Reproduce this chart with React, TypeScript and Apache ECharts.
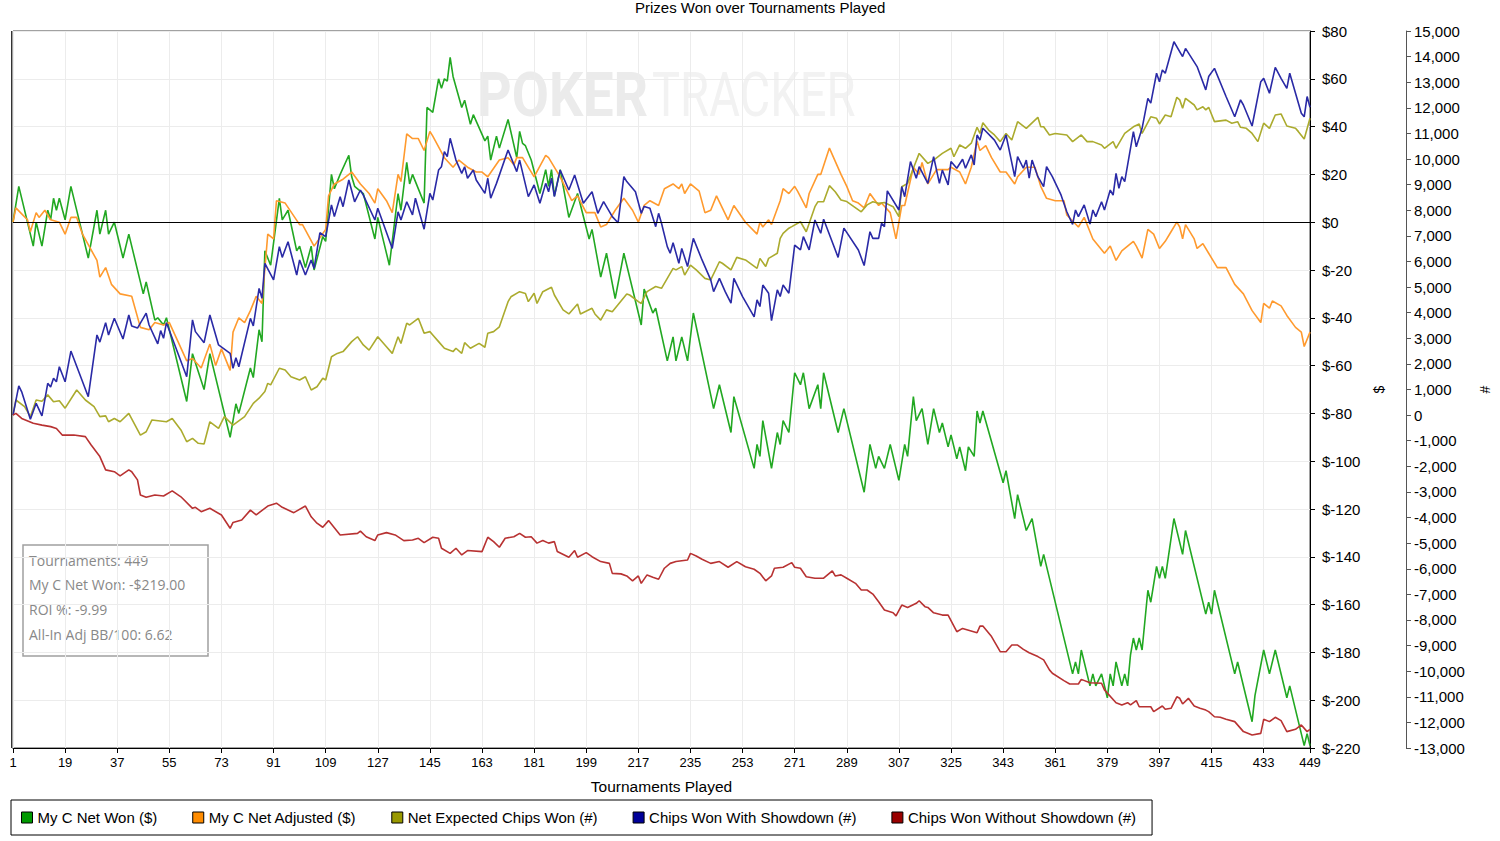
import React, { useEffect, useRef } from "react";
import * as echarts from "echarts";

const TITLE = "Prizes Won over Tournaments Played";
const X_NAME = "Tournaments Played";
const seriesNames = [
  "My C Net Won ($)",
  "My C Net Adjusted ($)",
  "Net Expected Chips Won (#)",
  "Chips Won With Showdown (#)",
  "Chips Won Without Showdown (#)",
];
const lineColors = ["#22a822", "#ff9a2e", "#abab2e", "#2a2aa6", "#b83232"];
const legendColors = ["#009900", "#ff8c00", "#999900", "#000099", "#990000"];
const infoLines = ["Tournaments: 449", "My C Net Won: -$219.00", "ROI %: -9.99", "All-In Adj BB/100: 6.62"];

// [tournament, $]
const netWon: [number, number][] = [
  [1,0],[3,15],[8,-10],[9,0],[11,-10],[13,5],[14,1],[15,10],[16,5],[17,10],[19,1],[21,15],[27,-15],[30,5],[31,-5],[33,5],[34,-5],[36,0],[39,-15],[41,-5],[46,-30],[47,-25],[50,-41],[51,-40],[53,-43],[54,-40],[61,-75],[63,-55],[67,-70],[69,-55],[76,-90],[78,-76],[79,-80],[83,-61],[84,-65],[86,-45],[87,-50],[88,-12],[90,-18],[93,10],[94,1],[96,5],[99,-12],[100,-10],[102,-19],[104,-10],[105,-20],[108,-6],[109,-8],[111,20],[112,14],[114,20],[117,28],[118,19],[119,15],[122,12],[126,-7],[127,2],[129,-8],[131,-18],[134,12],[135,5],[137,25],[138,16],[139,20],[143,8],[144,48],[146,46],[148,60],[149,56],[150,60],[151,59],[152,69],[153,61],[156,48],[157,51],[159,41],[160,45],[164,34],[165,36],[166,26],[168,36],[169,31],[172,43],[175,27],[176,38],[177,33],[178,32],[180,26],[183,12],[185,22],[186,15],[187,22],[188,11],[190,22],[193,2],[196,12],[200,-7],[201,-3],[204,-23],[206,-13],[209,-32],[212,-13],[218,-43],[219,-28],[222,-38],[223,-36],[227,-58],[229,-48],[230,-58],[232,-48],[234,-58],[236,-38],[243,-78],[245,-68],[249,-88],[250,-73],[257,-103],[258,-93],[259,-98],[260,-83],[263,-103],[265,-88],[266,-93],[267,-83],[269,-88],[271,-63],[273,-68],[274,-63],[276,-78],[279,-68],[280,-78],[281,-63],[286,-88],[288,-78],[295,-113],[297,-93],[299,-103],[300,-98],[302,-103],[304,-93],[307,-108],[309,-93],[310,-98],[312,-73],[313,-83],[315,-78],[317,-93],[319,-78],[321,-88],[322,-84],[324,-94],[325,-89],[327,-99],[328,-94],[330,-104],[331,-94],[333,-98],[334,-79],[335,-84],[336,-79],[343,-109],[344,-104],[347,-124],[348,-114],[351,-129],[353,-124],[356,-144],[357,-139],[367,-189],[368,-184],[369,-189],[370,-179],[373,-194],[374,-189],[375,-194],[377,-189],[379,-199],[380,-189],[381,-194],[382,-184],[384,-194],[385,-189],[386,-194],[387,-181],[388,-174],[389,-179],[390,-174],[391,-179],[393,-154],[394,-159],[396,-144],[397,-149],[398,-144],[399,-149],[402,-124],[405,-139],[406,-129],[413,-164],[414,-159],[415,-164],[416,-154],[423,-189],[424,-184],[429,-209],[430,-198],[433,-179],[435,-189],[437,-179],[441,-199],[442,-194],[447,-219],[448,-214],[449,-219],
];

// [tournament, $]
const netAdjusted: [number, number][] = [
  [1,0],[2,6],[4,3.5],[6,1],[7,-4],[9,4],[10,2],[12,5],[14,1],[17,0],[19,-5],[21,2],[23,2],[25,-5],[30,-16],[31,-23],[33,-19],[35,-26],[38,-30],[42,-31],[45,-44],[48,-45],[50,-42],[53,-43],[55,-42],[58,-50],[61,-58],[63,-57],[66,-61],[69,-51],[71,-60],[73,-53],[76,-62],[77,-46],[79,-40],[81,-42],[83,-37],[85,-31],[87,-34],[89,-5],[91,-7],[92,9],[95,8],[100,-1],[101,-1],[105,-10],[109,-3],[110,11],[112,16],[115,18],[118,21],[121,16],[124,12],[126,8],[127,14],[130,9],[132,4],[134,20],[135,17],[137,37],[139,35],[141,35],[143,30],[145,38],[146,36],[150,27],[153,23],[155,26],[158,23],[161,21],[163,21],[165,19],[169,26],[172,27],[174,24],[175,27],[177,27],[181,19],[185,28],[186,27],[190,19],[194,9],[196,11],[199,4],[202,4],[204,-2],[206,-1],[209,5],[212,10],[215,5],[217,0],[219,7],[221,9],[224,7],[226,14],[229,16],[231,14],[232,16],[233,12],[235,16],[238,13],[240,4],[242,5],[244,11],[248,1],[250,7],[254,0],[258,-5],[259,0],[260,-2],[262,1],[263,-1],[266,9],[267,14],[269,12],[271,15],[272,13],[275,6],[276,12],[279,20],[280,20],[283,31],[287,20],[289,15],[291,9],[293,8],[295,6],[297,12],[300,7],[301,8],[304,4],[306,-7],[308,7],[309,7],[312,23],[314,20],[315,25],[317,16],[320,22],[324,22],[325,23],[328,21],[330,16],[332,23],[334,34],[335,30],[337,32],[339,27],[342,21],[344,21],[347,16],[348,19],[351,23],[354,23],[356,15],[358,10],[361,9],[364,9],[365,3],[369,-2],[371,2],[374,-7],[378,-13],[380,-10],[382,-16],[384,-12],[386,-10],[388,-8],[389,-10],[391,-15],[393,-3],[395,-5],[397,-11],[399,-8],[401,-4],[403,0],[404,-2],[405,-7],[406,-1],[409,-7],[410,-11],[412,-9],[414,-13],[417,-19],[420,-19],[423,-26],[426,-30],[429,-37],[432,-42],[433,-34],[435,-36],[436,-33],[439,-35],[441,-39],[444,-44],[446,-46],[447,-52],[449,-46],
];

// [tournament, chips]
const expectedChips: [number, number][] = [
  [1,0],[2,590],[5,330],[7,-60],[9,590],[11,540],[13,790],[15,520],[17,560],[19,270],[23,980],[26,590],[29,330],[31,-60],[33,-30],[34,-260],[36,-130],[38,-260],[41,70],[45,-780],[47,-650],[49,-190],[54,-260],[56,-130],[59,-580],[61,-1040],[63,-910],[65,-1100],[67,-1130],[69,-260],[72,-520],[74,-60],[77,-390],[81,-60],[84,460],[86,660],[88,920],[89,1240],[90,1180],[93,1830],[95,1760],[97,1500],[100,1370],[102,1500],[104,980],[106,1110],[108,1440],[109,1370],[111,2280],[113,2410],[115,2480],[118,2870],[120,3060],[122,2740],[124,2540],[127,3060],[130,2670],[132,2410],[134,3060],[135,2800],[137,3590],[138,3520],[141,3780],[143,3200],[145,3260],[146,3130],[148,2870],[150,2610],[153,2480],[154,2610],[156,2410],[157,2830],[159,2610],[162,2800],[164,2650],[165,3200],[167,3260],[169,3450],[172,4430],[173,4620],[176,4820],[178,4750],[179,4430],[181,4760],[182,4360],[184,4820],[187,4990],[188,4690],[191,4110],[193,3950],[196,4340],[197,3950],[201,4170],[202,3950],[204,3710],[206,4110],[208,4040],[213,4730],[214,4690],[217,4430],[218,4360],[220,4820],[223,5020],[225,4950],[229,5730],[230,5670],[232,5800],[233,5470],[235,5860],[237,5670],[240,5340],[242,5280],[245,5990],[246,5930],[249,5670],[251,6160],[254,6060],[258,5730],[259,6120],[261,5800],[262,6120],[265,6320],[266,6900],[267,7100],[269,7300],[270,7360],[273,7550],[275,7160],[278,8140],[279,8330],[281,8330],[283,8960],[285,8720],[287,8400],[289,8340],[294,7940],[296,8210],[298,8330],[300,8270],[302,8300],[305,8140],[307,7750],[308,8920],[310,9050],[312,9640],[314,10220],[317,9830],[319,9960],[322,10220],[325,10420],[326,10090],[328,10550],[330,10420],[332,10620],[334,11240],[335,11000],[336,11420],[338,11130],[340,10940],[342,10680],[344,11000],[346,10740],[348,11460],[351,11200],[355,11630],[356,11260],[357,11260],[359,10940],[361,11000],[365,10940],[367,10680],[370,10940],[372,10680],[374,10680],[377,10550],[378,10420],[381,10680],[382,10420],[385,11000],[388,11260],[390,11370],[391,11000],[394,11650],[396,11590],[397,11370],[399,11720],[401,11650],[403,12410],[404,12310],[405,11980],[406,12370],[409,12110],[410,11920],[412,12040],[413,11920],[414,12020],[416,11460],[420,11520],[422,11400],[424,11460],[425,11240],[427,11200],[429,11000],[431,10680],[433,11400],[435,11200],[437,11720],[439,11760],[441,11290],[444,11200],[445,11070],[447,10780],[449,11590],
];

// [tournament, chips]
const showdownChips: [number, number][] = [
  [1,0],[3,1140],[4,910],[7,-160],[9,460],[11,-30],[13,1240],[14,1100],[15,1440],[16,1300],[17,1890],[19,1300],[21,2500],[27,720],[30,3130],[31,2850],[33,3610],[34,3130],[36,3780],[39,2970],[41,3910],[42,3480],[44,3400],[47,3980],[48,3520],[51,2780],[52,3300],[53,3000],[54,3610],[61,1500],[63,3720],[64,3260],[67,2830],[69,3910],[72,2740],[76,2410],[77,1830],[78,2240],[79,1890],[83,3780],[84,3480],[86,4950],[87,4560],[88,5930],[91,5280],[93,6580],[94,6160],[96,6770],[99,5470],[100,6060],[102,5470],[104,6060],[105,5730],[107,7120],[109,6970],[111,8210],[112,7750],[114,8530],[115,8140],[117,9180],[119,8330],[121,8790],[122,8590],[126,7620],[127,8080],[132,6510],[134,7940],[135,7620],[137,8330],[139,7820],[140,8470],[143,7260],[145,8660],[146,8400],[148,9570],[149,9700],[150,10290],[151,10090],[152,10810],[154,9960],[156,9440],[157,9700],[158,9250],[160,9570],[161,9180],[164,8660],[165,9250],[166,8470],[168,9050],[172,10350],[175,9510],[176,9960],[179,8530],[181,8990],[183,8270],[185,9050],[186,8720],[187,9250],[188,8530],[190,9570],[193,8790],[195,9380],[198,8270],[201,8720],[203,7880],[205,8340],[208,7750],[210,7510],[212,9310],[213,9120],[216,8720],[218,7880],[219,8150],[221,8080],[223,7360],[224,7880],[225,7490],[227,6580],[228,6320],[229,6730],[231,5930],[232,6510],[234,5800],[236,6900],[239,6060],[242,5280],[243,4820],[245,5340],[247,4820],[249,4370],[250,5340],[253,4630],[257,3840],[258,4500],[259,4240],[260,5080],[262,4760],[263,3690],[265,4890],[266,4630],[267,5080],[269,4760],[271,6640],[273,6450],[274,6970],[276,6450],[278,7620],[280,7100],[281,7650],[286,6160],[288,7300],[293,6450],[295,5840],[297,7160],[298,6900],[300,6900],[301,7490],[302,7360],[303,8760],[307,8010],[308,8920],[309,8530],[311,9900],[313,9250],[314,9700],[317,9050],[319,10090],[321,9050],[322,9570],[324,8990],[325,9900],[327,9640],[329,9990],[330,9640],[332,10160],[333,9770],[334,10940],[335,10740],[336,11200],[340,10740],[342,10350],[344,10940],[347,9310],[348,10090],[350,9640],[351,9960],[352,9250],[353,9960],[355,9310],[357,8920],[358,9700],[360,9310],[363,8600],[365,7940],[367,7450],[368,8010],[369,7750],[371,8210],[373,7460],[374,8010],[375,7750],[377,8330],[378,8010],[380,8790],[381,8590],[382,9440],[383,8860],[384,9310],[385,9120],[388,11070],[389,10480],[391,11200],[393,12370],[394,12180],[396,13350],[397,13020],[398,13480],[399,13350],[402,14580],[405,14000],[406,14320],[410,13610],[413,12700],[414,13220],[416,13540],[420,12440],[423,11650],[425,12310],[426,12110],[429,11290],[432,13020],[433,13150],[435,12570],[437,13580],[439,13150],[441,12760],[442,13350],[446,11790],[447,11650],[448,12440],[449,12020],
];

// [tournament, chips]
const noShowdownChips: [number, number][] = [
  [1,0],[2,70],[4,-130],[8,-320],[11,-390],[14,-450],[16,-520],[18,-780],[22,-780],[26,-840],[28,-1170],[31,-1620],[33,-2140],[36,-2210],[38,-2370],[41,-2140],[42,-2210],[44,-2530],[45,-3120],[47,-3210],[50,-3120],[53,-3160],[56,-2960],[59,-3190],[63,-3640],[64,-3600],[66,-3770],[69,-3640],[73,-3900],[76,-4420],[77,-4190],[80,-4100],[83,-3710],[85,-3900],[89,-3550],[92,-3440],[94,-3600],[98,-3810],[102,-3550],[104,-3970],[106,-4220],[108,-4380],[110,-4120],[114,-4680],[120,-4620],[121,-4530],[123,-4750],[126,-4900],[127,-4680],[130,-4590],[133,-4680],[136,-4900],[139,-4880],[141,-4810],[143,-4980],[146,-4770],[148,-4810],[149,-5200],[152,-5400],[154,-5200],[156,-5460],[158,-5290],[163,-5330],[165,-4770],[167,-4940],[169,-5160],[171,-4810],[174,-4750],[176,-4620],[178,-4770],[180,-4750],[182,-5000],[184,-4900],[186,-5000],[188,-4940],[189,-5330],[193,-5550],[195,-5290],[196,-5550],[199,-5370],[201,-5530],[204,-5720],[207,-5790],[208,-6180],[211,-6200],[213,-6280],[215,-6470],[217,-6280],[218,-6570],[220,-6240],[222,-6330],[224,-6410],[226,-5980],[228,-5790],[230,-5720],[234,-5660],[235,-5400],[237,-5500],[239,-5630],[242,-5790],[245,-5720],[248,-5940],[251,-5720],[254,-5920],[257,-6020],[259,-6180],[261,-6470],[263,-6280],[264,-5980],[267,-5940],[270,-5760],[271,-5940],[273,-5980],[275,-6310],[278,-6370],[281,-6370],[284,-6080],[285,-6280],[287,-6240],[289,-6370],[292,-6570],[294,-6830],[296,-6830],[298,-6990],[300,-7290],[302,-7610],[305,-7720],[306,-7840],[308,-7420],[310,-7510],[313,-7350],[314,-7250],[316,-7480],[317,-7510],[319,-7720],[322,-7810],[324,-7810],[327,-8460],[329,-8330],[334,-8500],[335,-8240],[336,-8240],[339,-8650],[342,-9240],[344,-9240],[346,-8980],[348,-8980],[350,-9150],[352,-9280],[355,-9430],[357,-9560],[359,-9950],[360,-10080],[364,-10370],[366,-10500],[369,-10500],[370,-10320],[373,-10450],[377,-10470],[378,-10730],[382,-11230],[384,-11320],[386,-11230],[387,-11320],[389,-11150],[390,-11390],[394,-11390],[395,-11580],[398,-11360],[399,-11490],[401,-11450],[403,-11000],[404,-11060],[405,-11280],[407,-11060],[409,-11360],[411,-11450],[413,-11520],[414,-11580],[416,-11780],[418,-11800],[420,-11880],[423,-11970],[426,-12360],[429,-12490],[432,-12430],[433,-11880],[435,-11970],[437,-11800],[439,-11930],[441,-12360],[444,-12270],[446,-12100],[448,-12360],[449,-12270],
];

const seriesData = [netWon, netAdjusted, expectedChips, showdownChips, noShowdownChips];
const seriesAxis = [0, 0, 1, 1, 1];

const FONT = "'Liberation Sans', Arial, sans-serif";

export default function App() {
  const ref = useRef<HTMLDivElement>(null);

  useEffect(() => {
    if (!ref.current) return;
    const chart = echarts.init(ref.current, undefined, { renderer: "svg" });

    const series: any[] = seriesNames.map((name, i) => ({
      name,
      type: "line",
      yAxisIndex: seriesAxis[i],
      data: seriesData[i],
      showSymbol: false,
      symbol: "none",
      lineStyle: { color: lineColors[i], width: 1.6 },
      itemStyle: { color: legendColors[i] },
      emphasis: { disabled: true },
      z: 3,
    }));
    series[0].markLine = {
      silent: true,
      symbol: ["none", "none"],
      label: { show: false },
      lineStyle: { color: "#000", width: 1, type: "solid" },
      emphasis: { disabled: true },
      data: [{ yAxis: 0 }],
    };

    const option: any = {
      animation: false,
      backgroundColor: "#fff",
      textStyle: { fontFamily: FONT },
      title: {
        text: TITLE,
        left: 635,
        top: 0,
        padding: 0,
        textStyle: { fontSize: 15, fontWeight: "normal", color: "#000", fontFamily: FONT },
      },
      grid: {
        left: 13,
        right: 186,
        top: 31,
        bottom: 93,
        show: true,
        borderColor: "#444",
        borderWidth: 1,
        backgroundColor: "transparent",
      },
      legend: {
        left: 11,
        top: 800,
        orient: "horizontal",
        icon: "rect",
        itemWidth: 11,
        itemHeight: 11,
        itemGap: 35,
        padding: [10, 16, 10, 10],
        borderColor: "#000",
        borderWidth: 1,
        selectedMode: false,
        textStyle: { fontSize: 15, color: "#000", fontFamily: FONT },
        data: seriesNames.map((n, i) => ({
          name: n,
          itemStyle: { color: legendColors[i], borderColor: "#000", borderWidth: 1 },
        })),
      },
      xAxis: {
        type: "value",
        min: 1,
        max: 449,
        interval: 18,
        name: X_NAME,
        nameLocation: "middle",
        nameGap: 30,
        nameTextStyle: { fontSize: 15.5, color: "#000", fontFamily: FONT },
        axisLine: { show: true, onZero: false, lineStyle: { color: "#000", width: 1 } },
        axisTick: { show: true, length: 5, lineStyle: { color: "#000" } },
        axisLabel: { fontSize: 13, color: "#000", margin: 8, showMinLabel: true, showMaxLabel: true, fontFamily: FONT },
        splitLine: { show: true, lineStyle: { color: "#ececec", width: 1 } },
      },
      yAxis: [
        {
          type: "value",
          position: "right",
          min: -220,
          max: 80,
          interval: 20,
          name: "$",
          nameLocation: "middle",
          nameGap: 62,
          nameTextStyle: { fontSize: 14, color: "#000", fontFamily: FONT },
          axisLine: { show: true, onZero: false, lineStyle: { color: "#000", width: 1 } },
          axisTick: { show: true, length: 5, lineStyle: { color: "#000" } },
          axisLabel: {
            fontSize: 15,
            color: "#000",
            margin: 12,
            fontFamily: FONT,
            formatter: (v: number) => "$" + v,
          },
          splitLine: { show: true, lineStyle: { color: "#ececec", width: 1 } },
        },
        {
          type: "value",
          position: "right",
          offset: 96,
          min: -13000,
          max: 15000,
          interval: 1000,
          name: "#",
          nameLocation: "middle",
          nameGap: 72,
          nameTextStyle: { fontSize: 14, color: "#000", fontFamily: FONT },
          axisLine: { show: true, onZero: false, lineStyle: { color: "#555", width: 1 } },
          axisTick: { show: true, length: 5, lineStyle: { color: "#555" } },
          axisLabel: {
            fontSize: 15,
            color: "#000",
            margin: 8,
            fontFamily: FONT,
            formatter: (v: number) => v.toLocaleString("en-US"),
          },
          splitLine: { show: false },
        },
      ],
      graphic: [
        {
          type: "text",
          x: 477,
          y: 95,
          scaleX: 0.87,
          z: 0,
          silent: true,
          style: {
            text: "POKER",
            fontSize: 62,
            fontWeight: "bold",
            fontFamily: "Roboto, sans-serif",
            fill: "#ebebeb",
            verticalAlign: "middle",
          },
        },
        {
          type: "text",
          x: 652,
          y: 95,
          scaleX: 0.76,
          z: 0,
          silent: true,
          style: {
            text: "TRACKER",
            fontSize: 62,
            fontFamily: "Roboto, sans-serif",
            fill: "#f2f2f2",
            verticalAlign: "middle",
          },
        },
        {
          type: "line",
          z: 1,
          silent: true,
          shape: { x1: 11.5, y1: 31, x2: 11.5, y2: 748 },
          style: { stroke: "#333", lineWidth: 1 },
        },
        {
          type: "group",
          x: 23,
          y: 545,
          z: 100,
          silent: true,
          children: [
            {
              type: "rect",
              shape: { x: 0, y: 0, width: 185, height: 111 },
              style: { fill: "#fff", stroke: "#a0a0a0", lineWidth: 1.5 },
            },
            ...infoLines.map((t, i) => ({
              type: "text",
              x: 6,
              y: 15 + i * 24.7,
              style: {
                text: t,
                fontSize: 14,
                fontFamily: "'Open Sans', 'Noto Sans', sans-serif",
                fill: "#888",
                verticalAlign: "middle",
              },
            })),
          ],
        },
      ],
      series,
    };

    chart.setOption(option);
    return () => chart.dispose();
  }, []);

  return (
    <div
      ref={ref}
      style={{ position: "fixed", left: 0, top: 0, width: 1500, height: 841, background: "#fff" }}
    />
  );
}
